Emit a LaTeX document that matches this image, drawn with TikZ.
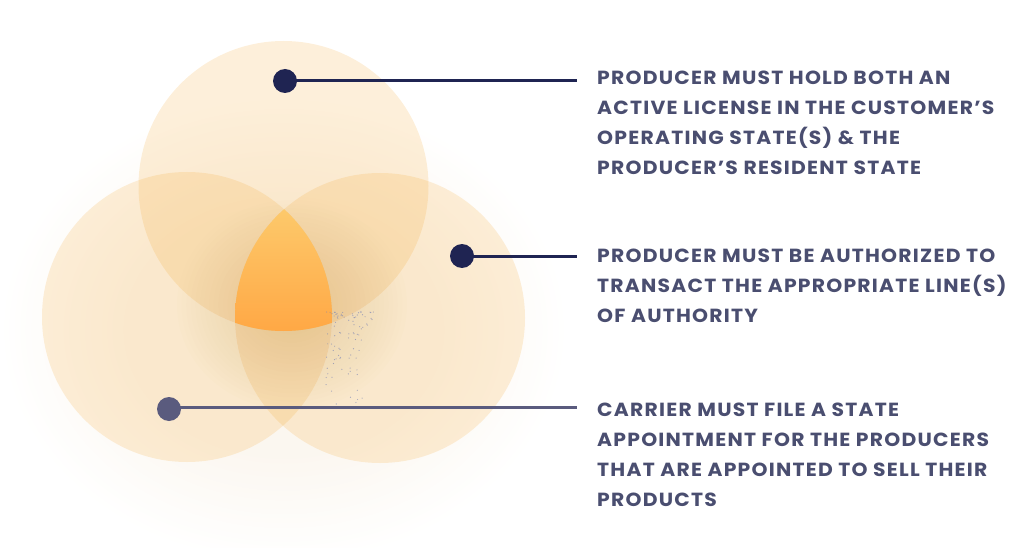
\documentclass[tikz,border=0pt]{standalone}
\usepackage{fontspec}
\newfontfamily\labfont{Poppins}[FakeStretch=1.07, LetterSpace=6.5]
\definecolor{navy}{HTML}{1F2452}
\definecolor{slate}{HTML}{5A5B7E}
\definecolor{txt}{HTML}{4A4E70}
\definecolor{peach}{HTML}{F4A121}
\definecolor{tanc}{HTML}{C9A35A}
\definecolor{glow}{HTML}{EBD3AE}
\definecolor{orgtop}{HTML}{FDCA6C}
\definecolor{orgbot}{HTML}{FFA744}
\definecolor{speck}{HTML}{7E86B4}
\tikzset{
  venn/.style={fill=peach, fill opacity=0.17, draw=none},
  dotmark/.style={circle, fill=navy, draw=none, minimum size=24pt, inner sep=0pt},
  conn/.style={draw=navy, line width=3pt},
  label/.style={anchor=base west, inner sep=0pt, align=left, text=txt,
    font=\labfont\bfseries\fontsize{19pt}{30pt}\selectfont}
}
\begin{document}
\begin{tikzpicture}[x=1pt,y=-1pt]
\useasboundingbox (0,0) rectangle (1014,548);
% soft outer shadow
\foreach \k in {1,...,24}{
  \fill[glow, opacity=0.007] (284,330) ellipse [x radius={150+130*\k/24}, y radius={120+110*\k/24}];
}
% circles
\fill[venn] (283.5,186) circle (145);
\fill[venn] (187,317) circle (145);
\fill[venn] (380,318) circle (145);
% inner darker glow
\foreach \k in {1,...,25}{
  \fill[tanc, opacity=0.016] (292,305) ellipse [x radius={115*\k/25}, y radius={105*\k/25}];
}
% triple intersection
\begin{scope}
  \clip (283.5,186) circle (145);
  \clip (187,317) circle (145);
  \clip (380,318) circle (145);
  \shade[top color=orgtop, bottom color=orgbot] (230,205) rectangle (340,335);
\end{scope}
% speckles
\pgfmathsetseed{11}
\foreach \i in {1,...,90}{
  \pgfmathsetmacro{\ra}{rnd}
  \pgfmathsetmacro{\rb}{rnd}
  \pgfmathsetmacro{\px}{326+52*\ra*(1-0.3*\rb)}
  \pgfmathsetmacro{\py}{312+95*\rb*\rb}
  \fill[speck, opacity=0.7] (\px,\py) circle (0.6);
}
% dots and connectors
\node[dotmark] (d1) at (285,81) {};
\node[dotmark] (d2) at (462,256) {};
\node[dotmark, fill=slate] (d3) at (169,409) {};
\coordinate (e1) at (577,81);
\coordinate (e2) at (577,256);
\coordinate (e3) at (577,407.5);
\draw[conn] (d1.center) -- (e1);
\draw[conn] (d2.center) -- (e2);
\draw[conn, draw=slate] (d3.center |- e3) -- (e3);
% labels (anchored at the baseline of their last line)
\node[label] (t1) at (597,175) {PRODUCER MUST HOLD BOTH AN\\ACTIVE LICENSE IN THE CUSTOMER’S\\OPERATING STATE(S) \& THE\\PRODUCER’S RESIDENT STATE};
\node[label] (t2) at (597,322) {PRODUCER MUST BE AUTHORIZED TO\\TRANSACT THE APPROPRIATE LINE(S)\\OF AUTHORITY};
\node[label] (t3) at (597,506) {CARRIER MUST FILE A STATE\\APPOINTMENT FOR THE PRODUCERS\\THAT ARE APPOINTED TO SELL THEIR\\PRODUCTS};
\end{tikzpicture}
\end{document}
